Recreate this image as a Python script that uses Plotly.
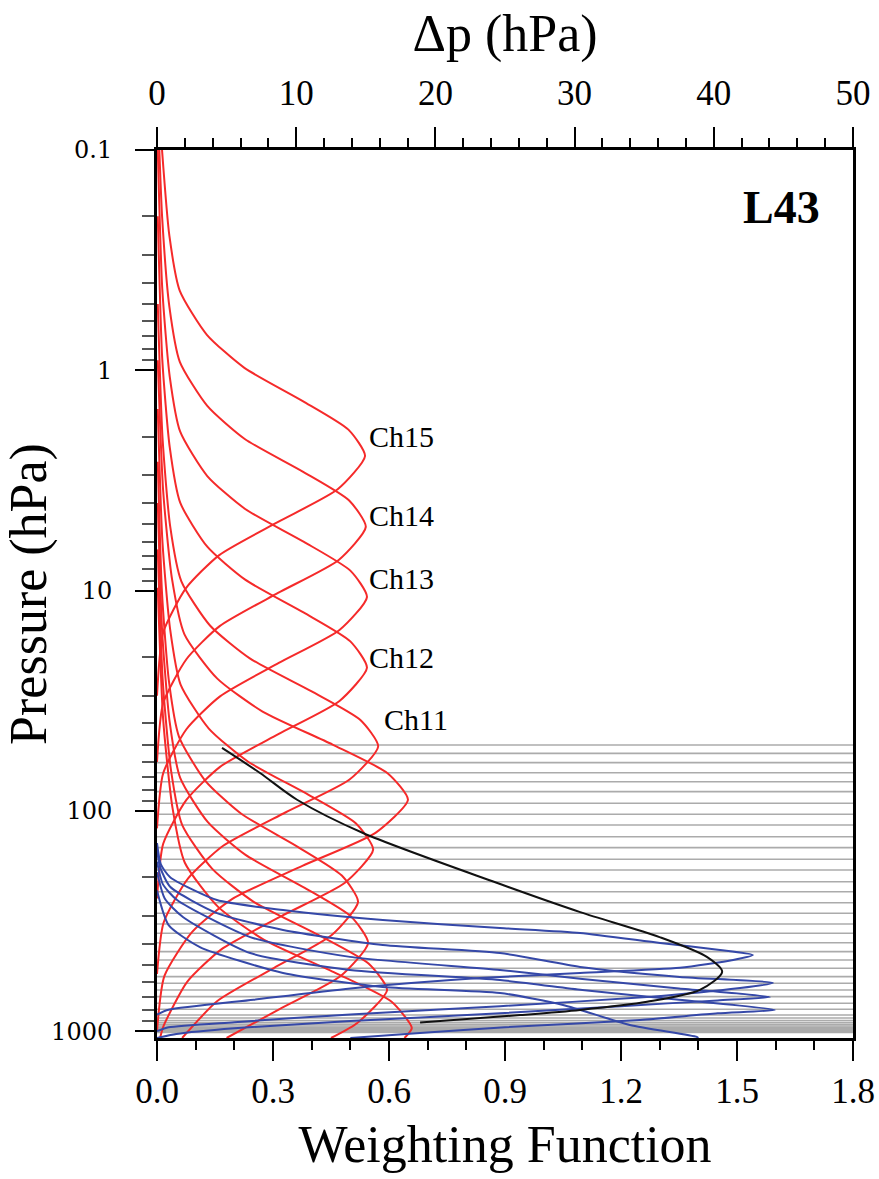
import numpy as np
import plotly.graph_objects as go

# ---------------- data ----------------
# temperature-sounding channels (red): pressure (hPa) and weighting function
CH15_P = [0.1, 0.245, 0.436, 0.69, 0.975, 1.38, 1.86, 2.45, 3.46, 4.89, 6.9, 9.75, 15.5, 30]
CH15_W = [0.013, 0.032, 0.059, 0.129, 0.226, 0.377, 0.495, 0.538, 0.468, 0.312, 0.161, 0.075, 0.016, 0.0]
CH14_P = [0.1, 0.205, 0.514, 0.915, 1.45, 2.05, 2.89, 3.9, 5.14, 7.26, 10.25, 14.5, 20.5, 32.4, 60]
CH14_W = [0.006, 0.0135, 0.032, 0.059, 0.130, 0.227, 0.378, 0.497, 0.540, 0.470, 0.313, 0.162, 0.076, 0.016, 0.0]
CH13_P = [0.1, 0.426, 1.07, 1.90, 3.02, 4.26, 6.01, 8.12, 10.7, 15.1, 21.3, 30.2, 42.6, 67.5, 120]
CH13_W = [0.002, 0.0136, 0.033, 0.060, 0.130, 0.228, 0.380, 0.500, 0.543, 0.472, 0.315, 0.163, 0.076, 0.016, 0.0]
CH12_P = [0.2, 0.89, 2.24, 3.99, 6.32, 8.92, 12.6, 17.0, 22.4, 31.7, 44.7, 63.1, 89.2, 141, 250]
CH12_W = [0.002, 0.0136, 0.033, 0.060, 0.130, 0.228, 0.380, 0.500, 0.543, 0.472, 0.315, 0.163, 0.076, 0.016, 0.0]
CH11_P = [0.5, 2.03, 5.1, 9.08, 14.4, 20.3, 28.7, 38.7, 51, 72.1, 101.7, 143.7, 203, 322, 550]
CH11_W = [0.002, 0.0143, 0.034, 0.063, 0.137, 0.240, 0.400, 0.526, 0.572, 0.498, 0.332, 0.172, 0.080, 0.017, 0.0]
CH10_P = [0.9, 3.54, 8.9, 15.8, 25.1, 35.4, 50.0, 67.6, 89, 125.8, 177.6, 250.8, 354, 562, 1000]
CH10_W = [0.002, 0.016, 0.039, 0.071, 0.156, 0.273, 0.454, 0.597, 0.649, 0.565, 0.376, 0.195, 0.091, 0.019, 0.0]
CH9_P = [1.5, 5.97, 15, 26.7, 42.3, 59.7, 84.3, 113.9, 150, 212, 299, 423, 597, 947, 1074]
CH9_W = [0.002, 0.014, 0.034, 0.061, 0.134, 0.235, 0.391, 0.514, 0.559, 0.486, 0.324, 0.168, 0.078, 0.017, 0.008]
CH8_P = [2.6, 10.3, 25.9, 46.1, 73.0, 103, 145.6, 196.6, 259, 366, 517, 730, 1074]
CH8_W = [0.002, 0.013, 0.031, 0.057, 0.125, 0.218, 0.364, 0.478, 0.520, 0.452, 0.302, 0.156, 0.065]
CH7_P = [4, 15.8, 39.8, 70.8, 112.2, 158.4, 223.7, 302, 398, 562, 794, 1074]
CH7_W = [0.002, 0.0137, 0.033, 0.060, 0.131, 0.229, 0.382, 0.502, 0.546, 0.475, 0.317, 0.180]
CH6_P = [6.5, 25.9, 65, 115.7, 183.3, 258.7, 365.3, 493.4, 650, 918, 1074]
CH6_W = [0.002, 0.015, 0.036, 0.065, 0.143, 0.250, 0.417, 0.547, 0.595, 0.518, 0.450]
CH5_P = [9.7, 38.5, 96.7, 172, 272.7, 384.9, 543.5, 734, 967, 1074]
CH5_W = [0.002, 0.016, 0.040, 0.072, 0.158, 0.277, 0.461, 0.606, 0.659, 0.640]

# humidity channels (blue)
B1_P = [140, 175, 200, 254, 282, 313, 340, 358, 398, 428, 451, 475, 516, 544, 574, 640, 720, 800, 840]
B1_W = [0.0, 0.01, 0.034, 0.155, 0.326, 0.584, 0.887, 1.094, 1.301, 1.456, 1.541, 1.49, 1.352, 1.094, 0.835, 0.5, 0.25, 0.03, 0.0]
B2_P = [150, 180, 221, 291, 347, 406, 442, 511, 567, 604, 637, 700, 770, 840, 910, 960, 1000]
B2_W = [0.0, 0.008, 0.034, 0.155, 0.326, 0.584, 0.887, 1.094, 1.352, 1.593, 1.508, 1.267, 0.887, 0.5, 0.2, 0.03, 0.0]
B3_P = [170, 215, 254, 374, 460, 527, 580, 640, 700, 725, 770, 830, 900, 970, 1030, 1074]
B3_W = [0.0, 0.015, 0.052, 0.241, 0.499, 0.887, 1.1, 1.35, 1.585, 1.45, 1.2, 0.887, 0.5, 0.2, 0.05, 0.0]
B4_P = [190, 250, 303, 442, 527, 586, 650, 720, 801, 830, 890, 960, 1019, 1074]
B4_W = [0.0, 0.02, 0.067, 0.241, 0.499, 0.887, 1.1, 1.35, 1.598, 1.45, 1.249, 0.9, 0.68, 0.5]
B5_P = [230, 330, 415, 544, 630, 671, 760, 937, 1062, 1074]
B5_W = [0.0, 0.03, 0.111, 0.326, 0.584, 0.887, 1.05, 1.223, 1.396, 1.40]

# model level pressures of the L43 grid (hPa)
LEVELS = [50.2, 54.8, 60.4, 67.1, 73.7, 81.8, 92.4, 103.6, 115.9, 131.0, 146.9, 165.9,
          185.5, 209.6, 232.7, 261.1, 291.7, 326.1, 359.4, 396.6, 435.6, 475.3, 518.1,
          565.7, 606.1, 650.1, 697.0, 747.0, 795.4, 844.4, 871, 895, 915, 932, 947, 960,
          971, 980, 988, 995, 1001, 1007, 1013]

# layer thickness dp (hPa) versus pressure (black curve, top axis)
DP_P = [51.8, 67.3, 89, 126, 212, 288, 374, 460, 538, 650, 736, 801, 845, 913]
DP_V = [4.67, 7.4, 10.06, 14.8, 24.4, 30.4, 36.1, 39.5, 40.6, 39.0, 35.2, 30.4, 26.1, 18.9]

LABELS = ["Ch15", "Ch14", "Ch13", "Ch12", "Ch11"]
LABEL_P = [1.99, 4.54, 8.77, 20.2, 38.6]
LABEL_W = [0.543, 0.543, 0.543, 0.543, 0.581]

X_TICKS = [0.0, 0.3, 0.6, 0.9, 1.2, 1.5, 1.8]
TOP_TICKS = [0, 10, 20, 30, 40, 50]
Y_TICKS = [0.1, 1, 10, 100, 1000]
P_BOTTOM = 1074

RED = [(CH15_P, CH15_W), (CH14_P, CH14_W), (CH13_P, CH13_W), (CH12_P, CH12_W),
       (CH11_P, CH11_W), (CH10_P, CH10_W), (CH9_P, CH9_W), (CH8_P, CH8_W),
       (CH7_P, CH7_W), (CH6_P, CH6_W), (CH5_P, CH5_W)]
BLUE = [(B1_P, B1_W), (B2_P, B2_W), (B3_P, B3_W), (B4_P, B4_W), (B5_P, B5_W)]

SERIF = "Liberation Serif, Times New Roman, serif"

fig = go.Figure()

# level lines
lx, ly = [], []
for p in LEVELS:
    lx += [0, 1.8, None]
    ly += [p, p, None]
fig.add_trace(go.Scatter(x=lx, y=ly, mode="lines", line=dict(color="#ababab", width=1.6),
                         hoverinfo="skip", showlegend=False))

for p, w in RED:
    fig.add_trace(go.Scatter(x=w, y=p, mode="lines",
                             line=dict(color="#f52a2a", width=2, shape="spline", smoothing=0.6),
                             showlegend=False))
for p, w in BLUE:
    fig.add_trace(go.Scatter(x=w, y=p, mode="lines",
                             line=dict(color="#3548a8", width=2, shape="spline", smoothing=0.6),
                             showlegend=False))

fig.add_trace(go.Scatter(x=DP_V, y=DP_P, mode="lines", xaxis="x2",
                         line=dict(color="#111111", width=2, shape="spline", smoothing=0.8),
                         showlegend=False))

for t, p, w in zip(LABELS, LABEL_P, LABEL_W):
    fig.add_annotation(x=w, y=np.log10(p), text=t, showarrow=False, xanchor="left",
                       yanchor="middle", font=dict(family=SERIF, size=30, color="black"))

fig.add_annotation(x=0.955, y=0.935, xref="paper", yref="paper", text="<b>L43</b>",
                   showarrow=False, xanchor="right", yanchor="middle",
                   font=dict(family=SERIF, size=46, color="black"))

minor_x = [round(v * 0.1, 1) for v in range(19) if v % 3 != 0]
minor_top = [v for v in range(0, 51, 2) if v % 10 != 0]
minor_y = [m * 10.0 ** e for e in range(-1, 3) for m in range(2, 10)]

fig.update_layout(
    width=879, height=1179,
    margin=dict(l=157, r=26, t=150, b=141, autoexpand=False),
    paper_bgcolor="white", plot_bgcolor="white",
    xaxis=dict(range=[0, 1.8], tickvals=X_TICKS, ticktext=[f"{v:.1f}" for v in X_TICKS],
               automargin=False,
               ticks="outside", ticklen=20, tickwidth=2, tickcolor="black",
               minor=dict(tickvals=minor_x, ticks="outside", ticklen=9, tickwidth=2, tickcolor="black"),
               showline=True, linewidth=3, linecolor="black", showgrid=False, zeroline=False,
               ticklabelstandoff=0,
               tickfont=dict(family=SERIF, size=35, color="black"),
               title=dict(text="Weighting Function", font=dict(family=SERIF, size=52, color="black"),
                          standoff=16)),
    xaxis2=dict(range=[0, 50], overlaying="x", side="top", tickvals=TOP_TICKS,
                automargin=False,
                ticks="outside", ticklen=20, tickwidth=2, tickcolor="black",
                minor=dict(tickvals=minor_top, ticks="outside", ticklen=9, tickwidth=2, tickcolor="black"),
                showline=True, linewidth=3, linecolor="black", showgrid=False, zeroline=False,
                ticklabelstandoff=8,
                tickfont=dict(family=SERIF, size=35, color="black"),
                title=dict(text="Δp (hPa)", font=dict(family=SERIF, size=52, color="black"),
                           standoff=6)),
    yaxis=dict(type="log", range=[np.log10(P_BOTTOM), -1], tickvals=Y_TICKS,
               ticktext=["0.1", "1", "10", "100", "1000"], automargin=False,
               ticks="outside", ticklen=19, tickwidth=2, tickcolor="black",
               minor=dict(tickvals=minor_y, ticks="outside", ticklen=12, tickwidth=2, tickcolor="#555555"),
               showline=True, linewidth=3, linecolor="black", mirror=True,
               showgrid=False, zeroline=False, ticklabelstandoff=18,
               tickfont=dict(family="DejaVu Serif", size=24, color="black"),
               title=dict(text="Pressure (hPa)", font=dict(family=SERIF, size=52, color="black"),
                          standoff=6)),
)

fig.write_html("out.html")
